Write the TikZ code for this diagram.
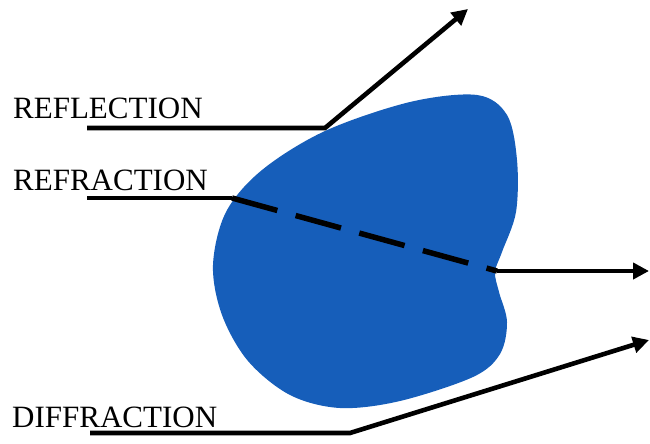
\documentclass[tikz,border=0pt]{standalone}
\usepackage{fontspec}
\setmainfont{Liberation Serif}
\usetikzlibrary{arrows.meta}
\definecolor{blobblue}{RGB}{22,94,186}
\tikzset{
  ray/.style={line width=4.6pt, black},
  rayarrow/.style={ray, -{Triangle[length=16pt,width=16pt]}},
  raydash/.style={line width=5.5pt, black, dash pattern=on 47pt off 19pt, line cap=butt},
  lbl/.style={anchor=base west, inner sep=0pt, font=\fontsize{31}{31}\selectfont}
}
\begin{document}
\begin{tikzpicture}[x=1pt,y=-1pt]
\useasboundingbox (0,0) rectangle (650,444);
% blob
\fill[blobblue] plot[smooth cycle, tension=0.55] coordinates {
 (477,95) (507,115) (517,160) (516,212) (502,252) (495,272) (499,292)
 (507,322) (500,354) (473,377) (400,401) (340,408) (290,395) (248,361)
 (222,315) (213,265) (226,212) (262,170) (325,131) (410,102)};
% labels
\node[lbl] (refl) at (13,118) {REFLECTION};
\node[lbl] (refr) at (13,190) {REFRACTION};
\node[lbl] (diff) at (12,427) {DIFFRACTION};
% coordinates
\coordinate (a1) at (87,128);
\coordinate (a2) at (325,128);
\coordinate (a3) at (468,9);
\coordinate (b1) at (87,198);
\coordinate (b2) at (232,198);
\coordinate (b3) at (497,271);
\coordinate (b4) at (649,271);
\coordinate (c1) at (90,433);
\coordinate (c2) at (350,433);
\coordinate (c3) at (649,340);
% rays
\draw[rayarrow] (a1) -- (a2) -- (a3);
\draw[ray] (b1) -- (b2);
\draw[raydash] (b2) -- (b3);
\draw[rayarrow] (b3) -- (b4);
\draw[rayarrow] (c1) -- (c2) -- (c3);
\end{tikzpicture}
\end{document}
